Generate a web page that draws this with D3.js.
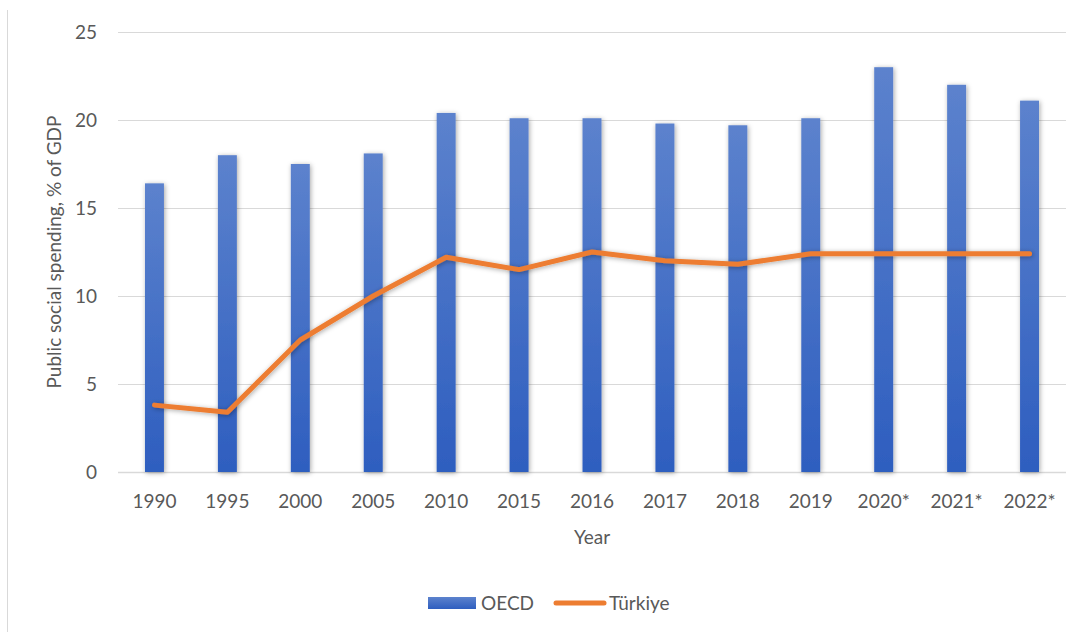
<!DOCTYPE html>
<html>
<head>
<meta charset="utf-8">
<script src="https://cdn.jsdelivr.net/npm/d3@7"></script>
<style>
  body { margin: 0; background: #fff; }
  svg { display: block; font-family: Lato, "Open Sans", sans-serif; }
</style>
</head>
<body>
<div id="chart"></div>
<script>
// chart data
const years = ['1990', '1995', '2000', '2005', '2010', '2015', '2016', '2017', '2018', '2019', '2020*', '2021*', '2022*'];
const oecd = [16.4, 18.0, 17.5, 18.1, 20.4, 20.1, 20.1, 19.8, 19.7, 20.1, 23.0, 22.0, 21.1];
const turkiye = [3.8, 3.4, 7.5, 10.0, 12.2, 11.5, 12.5, 12.0, 11.8, 12.4, 12.4, 12.4, 12.4];
const yTicks = [0, 5, 10, 15, 20, 25];

const width = 1078, height = 632;
const margin = { top: 32, right: 12, bottom: 160, left: 118 };
const fontSize = '19px';

const svg = d3.select('#chart').append('svg')
  .attr('width', width)
  .attr('height', height);

const defs = svg.append('defs');
const grad = defs.append('linearGradient')
  .attr('id', 'barGrad')
  .attr('x1', 0).attr('y1', 0).attr('x2', 0).attr('y2', 1);
grad.append('stop').attr('offset', '0%').attr('stop-color', '#5c82cd');
grad.append('stop').attr('offset', '100%').attr('stop-color', '#2e5ebf');

const shadow = defs.append('filter').attr('id', 'shadow')
  .attr('x', '-50%').attr('y', '-10%').attr('width', '200%').attr('height', '120%');
shadow.append('feDropShadow')
  .attr('dx', 1).attr('dy', 1).attr('stdDeviation', 2.5)
  .attr('flood-color', '#000').attr('flood-opacity', 0.35);

// thin frame line on the left
svg.append('line')
  .attr('x1', 7.5).attr('x2', 7.5)
  .attr('y1', 10).attr('y2', height)
  .attr('stroke', '#d9d9d9').attr('stroke-width', 1);

const x = d3.scaleBand()
  .domain(years)
  .range([margin.left, width - margin.right])
  .paddingInner(0.74)
  .paddingOuter(0.37);

const y = d3.scaleLinear()
  .domain([0, 25])
  .range([height - margin.bottom, margin.top]);

// gridlines
svg.append('g')
  .selectAll('line')
  .data(yTicks)
  .enter().append('line')
  .attr('x1', margin.left)
  .attr('x2', width - margin.right)
  .attr('y1', d => Math.round(y(d)) + 0.5)
  .attr('y2', d => Math.round(y(d)) + 0.5)
  .attr('stroke', '#d9d9d9')
  .attr('stroke-width', d => d === 0 ? 1.5 : 1);

// y tick labels
svg.append('g')
  .selectAll('text')
  .data(yTicks)
  .enter().append('text')
  .attr('x', 97)
  .attr('y', d => y(d))
  .attr('dy', '0.35em')
  .attr('text-anchor', 'end')
  .attr('fill', '#595959')
  .style('font-size', fontSize)
  .text(d => d);

// bars
svg.append('g')
  .selectAll('rect')
  .data(oecd)
  .enter().append('rect')
  .attr('x', (d, i) => x(years[i]))
  .attr('y', d => y(d))
  .attr('width', x.bandwidth())
  .attr('height', d => y(0) - y(d))
  .attr('fill', 'url(#barGrad)')
  .attr('filter', 'url(#shadow)');

// Türkiye line
const line = d3.line()
  .x((d, i) => x(years[i]) + x.bandwidth() / 2)
  .y(d => y(d));

svg.append('path')
  .datum(turkiye)
  .attr('d', line)
  .attr('fill', 'none')
  .attr('stroke', '#ed7d31')
  .attr('stroke-width', 5)
  .attr('stroke-linejoin', 'round')
  .attr('stroke-linecap', 'round')
  .attr('filter', 'url(#shadow)');

// x tick labels
svg.append('g')
  .selectAll('text')
  .data(years)
  .enter().append('text')
  .attr('x', d => x(d) + x.bandwidth() / 2)
  .attr('y', 508)
  .attr('text-anchor', 'middle')
  .attr('fill', '#595959')
  .style('font-size', fontSize)
  .text(d => d);

// axis titles
svg.append('text')
  .attr('x', 592)
  .attr('y', 544)
  .attr('text-anchor', 'middle')
  .attr('fill', '#595959')
  .style('font-size', fontSize)
  .text('Year');

svg.append('text')
  .attr('transform', 'translate(61,252) rotate(-90)')
  .attr('text-anchor', 'middle')
  .attr('fill', '#595959')
  .style('font-size', fontSize)
  .text('Public social spending, % of GDP');

// legend
const legend = svg.append('g');
legend.append('rect')
  .attr('x', 428).attr('y', 597)
  .attr('width', 48).attr('height', 12)
  .attr('fill', 'url(#barGrad)');
legend.append('text')
  .attr('x', 481).attr('y', 610)
  .attr('fill', '#595959')
  .style('font-size', fontSize)
  .text('OECD');
legend.append('line')
  .attr('x1', 556).attr('x2', 604)
  .attr('y1', 603).attr('y2', 603)
  .attr('stroke', '#ed7d31')
  .attr('stroke-width', 5)
  .attr('stroke-linecap', 'round');
legend.append('text')
  .attr('x', 609).attr('y', 610)
  .attr('fill', '#595959')
  .style('font-size', fontSize)
  .text('Türkiye');
</script>
</body>
</html>
